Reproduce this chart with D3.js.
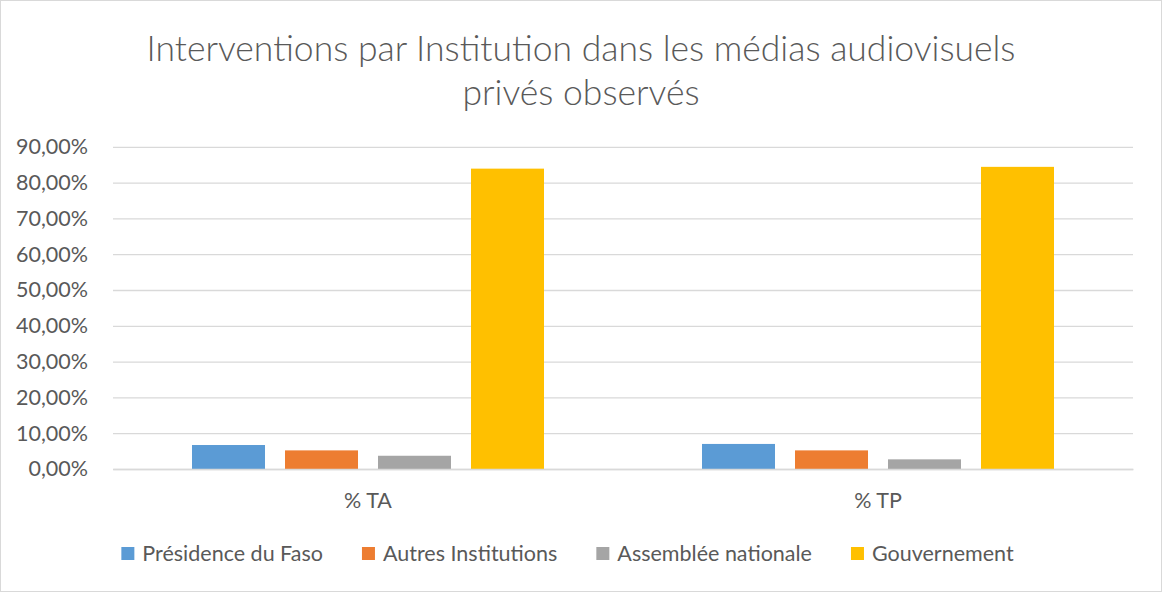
<!DOCTYPE html>
<html lang="fr">

<head>
    <meta charset="UTF-8">
    <title>Interventions par Institution</title>
    <style>
        html,
        body {
            padding: 0;
            margin: 0;
            background: #fff;
        }

        svg text {
            font-family: Lato, "Open Sans", sans-serif;
            fill: #595959;
        }
    </style>
</head>

<body>
    <div id="wrapper"></div>

    <script src="https://cdn.jsdelivr.net/npm/d3@7/dist/d3.min.js"></script>
    <script>
        // données
        const categories = ['% TA', '% TP'];
        const seriesNames = ['Présidence du Faso', 'Autres Institutions', 'Assemblée nationale', 'Gouvernement'];
        const seriesColors = ['#5B9BD5', '#ED7D31', '#A5A5A5', '#FFC000'];
        const presidence = [6.7, 7.0];
        const autres = [5.2, 5.2];
        const assemblee = [3.7, 2.7];
        const gouvernement = [83.9, 84.4];
        const yTicks = [0, 10, 20, 30, 40, 50, 60, 70, 80, 90];
        const titleLines = ['Interventions par Institution dans les médias audiovisuels', 'privés observés'];

        const seriesValues = [presidence, autres, assemblee, gouvernement];

        const width = 1163,
            height = 594,
            labelSize = '21.5px';

        const svg = d3.select('#wrapper').append('svg')
            .attr('width', width)
            .attr('height', height);

        // cadre du graphique
        svg.append('rect')
            .attr('x', 0.5)
            .attr('y', 0.5)
            .attr('width', width - 2)
            .attr('height', height - 3)
            .attr('fill', '#fff')
            .attr('stroke', '#d9d9d9');

        // titre
        svg.append('g')
            .selectAll('text')
            .data(titleLines)
            .join('text')
            .attr('x', 581)
            .attr('y', (d, i) => 61 + i * 44)
            .attr('text-anchor', 'middle')
            .style('font-size', '35.5px')
            .style('font-weight', 300)
            .text(d => d);

        // échelles
        const plotLeft = 113,
            plotRight = 1133;

        const x0 = d3.scaleBand()
            .domain(categories)
            .range([plotLeft, plotRight]);

        const x1 = d3.scaleBand()
            .domain(seriesNames)
            .range([79, 431])
            .paddingInner(0.215);

        const y = d3.scaleLinear()
            .domain([0, 90])
            .range([469, 146.8]);

        // grille + axe Y
        const yAxis = d3.axisLeft(y)
            .tickValues(yTicks)
            .tickSize(-(plotRight - plotLeft))
            .tickPadding(25)
            .tickFormat(d => d3.format('.2f')(d).replace('.', ',') + '%');

        const yAxisG = svg.append('g')
            .attr('transform', `translate(${plotLeft},0)`)
            .call(yAxis);

        yAxisG.select('.domain').remove();
        yAxisG.selectAll('.tick line')
            .attr('stroke', '#d9d9d9')
            .attr('stroke-width', 1.3);
        yAxisG.selectAll('.tick text')
            .style('font-size', labelSize)
            .attr('fill', '#595959');

        // barres
        const groups = svg.append('g')
            .selectAll('g')
            .data(categories)
            .join('g')
            .attr('transform', d => `translate(${x0(d)},0)`);

        groups.selectAll('rect')
            .data((c, ci) => seriesNames.map((s, si) => ({ s, v: seriesValues[si][ci], color: seriesColors[si] })))
            .join('rect')
            .attr('x', d => x1(d.s))
            .attr('y', d => y(d.v))
            .attr('width', x1.bandwidth())
            .attr('height', d => y(0) - y(d.v))
            .attr('fill', d => d.color);

        // axe X (ligne de base + libellés)
        const xAxis = d3.axisBottom(x0)
            .tickSize(0)
            .tickPadding(24);

        const xAxisG = svg.append('g')
            .attr('transform', `translate(0,${y(0)})`)
            .call(xAxis);

        xAxisG.select('.domain')
            .attr('stroke', '#d9d9d9')
            .attr('stroke-width', 1.3);
        xAxisG.selectAll('.tick text')
            .style('font-size', labelSize)
            .attr('fill', '#595959');

        // légende
        const legend = svg.append('g');
        const items = legend.selectAll('g')
            .data(seriesNames)
            .join('g');

        items.append('rect')
            .attr('x', 0)
            .attr('y', 547)
            .attr('width', 13)
            .attr('height', 13)
            .attr('fill', (d, i) => seriesColors[i]);

        items.append('text')
            .attr('x', 21)
            .attr('y', 561)
            .style('font-size', labelSize)
            .text(d => d);

        // placement des items de la légende
        const gap = 39;
        let cursor = 0;
        const offsets = [];
        items.each(function () {
            offsets.push(cursor);
            const w = d3.select(this).select('text').node().getComputedTextLength();
            cursor += 21 + w + gap;
        });
        const legendWidth = cursor - gap;
        const legendStart = 567.5 - legendWidth / 2;
        items.attr('transform', (d, i) => `translate(${legendStart + offsets[i]},0)`);
    </script>
</body>

</html>
